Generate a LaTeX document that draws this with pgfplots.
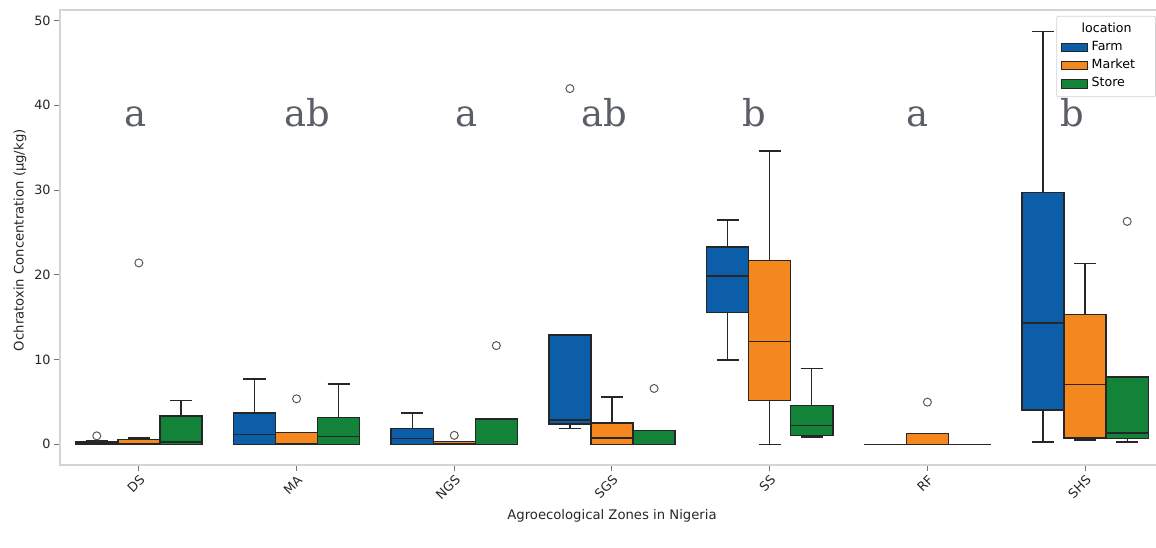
\documentclass[border=0pt]{standalone}
\usepackage{pgfplots}
\pgfplotsset{compat=1.18}
\usepgfplotslibrary{statistics}
\usepackage{fontspec}
\setmainfont{DejaVu Sans}
\newfontfamily\letterfont{DejaVu Serif}
\definecolor{farm}{HTML}{0C5EA8}
\definecolor{market}{HTML}{F5871F}
\definecolor{store}{HTML}{14833A}
\definecolor{lettergray}{HTML}{5A5E66}
\definecolor{spine}{HTML}{D4D4D4}
% #1 position, #2 color, #3 lw, #4 q1, #5 med, #6 q3, #7 uw
\newcommand{\bx}[7]{%
\addplot[boxplot prepared={draw position=#1, lower whisker=#3, lower quartile=#4, median=#5, upper quartile=#6, upper whisker=#7, box extend=0.2667, whisker extend=0.14},
  draw=black!85, line width=0.7pt, fill=#2, mark=o, mark size=2pt, mark options={draw=black!65, fill=white, solid, line width=0.5pt}, forget plot]}
\begin{document}
\begin{tikzpicture}
\useasboundingbox (0,0) rectangle (578pt,-273.5pt);
\begin{axis}[
  at={(30pt,-232.5pt)}, anchor=south west,
  width=552pt, height=227.5pt, scale only axis,
  boxplot/draw direction=y,
  xmin=-0.5, xmax=6.5, ymin=-2.44, ymax=51.24,
  xtick={0,1,2,3,4,5,6},
  xticklabels={DS,MA,NGS,SGS,SS,RF,SHS},
  ytick={0,10,20,30,40,50},
  axis line style={spine, line width=0.6pt},
  tick style={black!55, line width=0.5pt},
  tick align=outside, major tick length=3pt,
  xtick pos=bottom, ytick pos=left,
  tick label style={font=\fontsize{6.4}{7.5}\selectfont, text=black!85},
  /pgf/number format/assume math mode=true,
  xticklabel style={rotate=45, anchor=north east, inner sep=1pt},
  yticklabel style={inner sep=1.5pt},
  xlabel={Agroecological Zones in Nigeria},
  ylabel={Ochratoxin Concentration (μg/kg)},
  label style={font=\fontsize{6.6}{8}\selectfont, text=black!85},
  xlabel style={at={(axis description cs:0.5,-0.112)}, anchor=center},
  ylabel style={at={(axis description cs:-0.0362,0.494)}, anchor=center},
  legend style={at={(axis description cs:0.9928,0.987)}, anchor=north east,
    draw=spine, font=\fontsize{6.3}{7.5}\selectfont, fill=white, rounded corners=1pt,
    inner xsep=2pt, inner ysep=1.5pt, row sep=-1.2pt},
  legend cell align=left,
  legend image code/.code={\draw[#1, sharp corners] (0pt,-2.2pt) rectangle (13pt,2.2pt);},
]
% DS
\bx{-0.2667}{farm}{0}{0}{0.15}{0.35}{0.4} coordinates {(0,1.0)};
\bx{0}{market}{0}{0}{0.1}{0.6}{0.75} coordinates {(0,21.4)};
\bx{0.2667}{store}{0}{0}{0.27}{3.33}{5.2} coordinates {};
% MA
\bx{0.7333}{farm}{0}{0}{1.18}{3.7}{7.7} coordinates {};
\bx{1}{market}{0}{0}{0.05}{1.37}{1.37} coordinates {(0,5.37)};
\bx{1.2667}{store}{0}{0}{0.94}{3.14}{7.14} coordinates {};
% NGS
\bx{1.7333}{farm}{0}{0}{0.67}{1.88}{3.68} coordinates {};
\bx{2}{market}{0}{0}{0.1}{0.3}{0.3} coordinates {(0,1.06)};
\bx{2.2667}{store}{0}{0}{0}{2.98}{2.98} coordinates {(0,11.65)};
% SGS
\bx{2.7333}{farm}{1.88}{2.39}{2.86}{12.9}{12.9} coordinates {(0,41.97)};
\bx{3}{market}{0}{0}{0.75}{2.51}{5.6} coordinates {};
\bx{3.2667}{store}{0}{0}{0}{1.65}{1.65} coordinates {(0,6.59)};
% SS
\bx{3.7333}{farm}{9.96}{15.57}{19.88}{23.3}{26.47} coordinates {};
\bx{4}{market}{0}{5.14}{12.1}{21.7}{34.6} coordinates {};
\bx{4.2667}{store}{0.86}{1.06}{2.24}{4.59}{8.98} coordinates {};
% RF
\bx{4.7333}{farm}{0}{0}{0}{0}{0} coordinates {};
\bx{5}{market}{0}{0}{0}{1.29}{1.29} coordinates {(0,4.98)};
\bx{5.2667}{store}{0}{0}{0}{0}{0} coordinates {};
% SHS
\bx{5.7333}{farm}{0.27}{4.04}{14.3}{29.7}{48.7} coordinates {};
\bx{6}{market}{0.5}{0.75}{7.06}{15.3}{21.3} coordinates {};
\bx{6.2667}{store}{0.27}{0.67}{1.33}{7.92}{7.92} coordinates {(0,26.3)};
% letters
\begin{scope}[every node/.style={anchor=base, text=lettergray, font=\letterfont\fontsize{18.5}{20}\selectfont, inner sep=0pt}]
\node at (axis cs:-0.02,37.5) {a};
\node at (axis cs:1.07,37.5) {ab};
\node at (axis cs:2.08,37.5) {a};
\node at (axis cs:2.95,37.5) {ab};
\node at (axis cs:3.90,37.5) {b};
\node at (axis cs:4.94,37.5) {a};
\node at (axis cs:5.92,37.5) {b};
\end{scope}
% legend
\addlegendimage{empty legend}
\addlegendentry{\hspace*{-5pt}location\hspace*{8pt}}
\addlegendimage{draw=black!85, line width=0.5pt, fill=farm}
\addlegendentry{Farm}
\addlegendimage{draw=black!85, line width=0.5pt, fill=market}
\addlegendentry{Market}
\addlegendimage{draw=black!85, line width=0.5pt, fill=store}
\addlegendentry{Store}
\end{axis}
\end{tikzpicture}
\end{document}
